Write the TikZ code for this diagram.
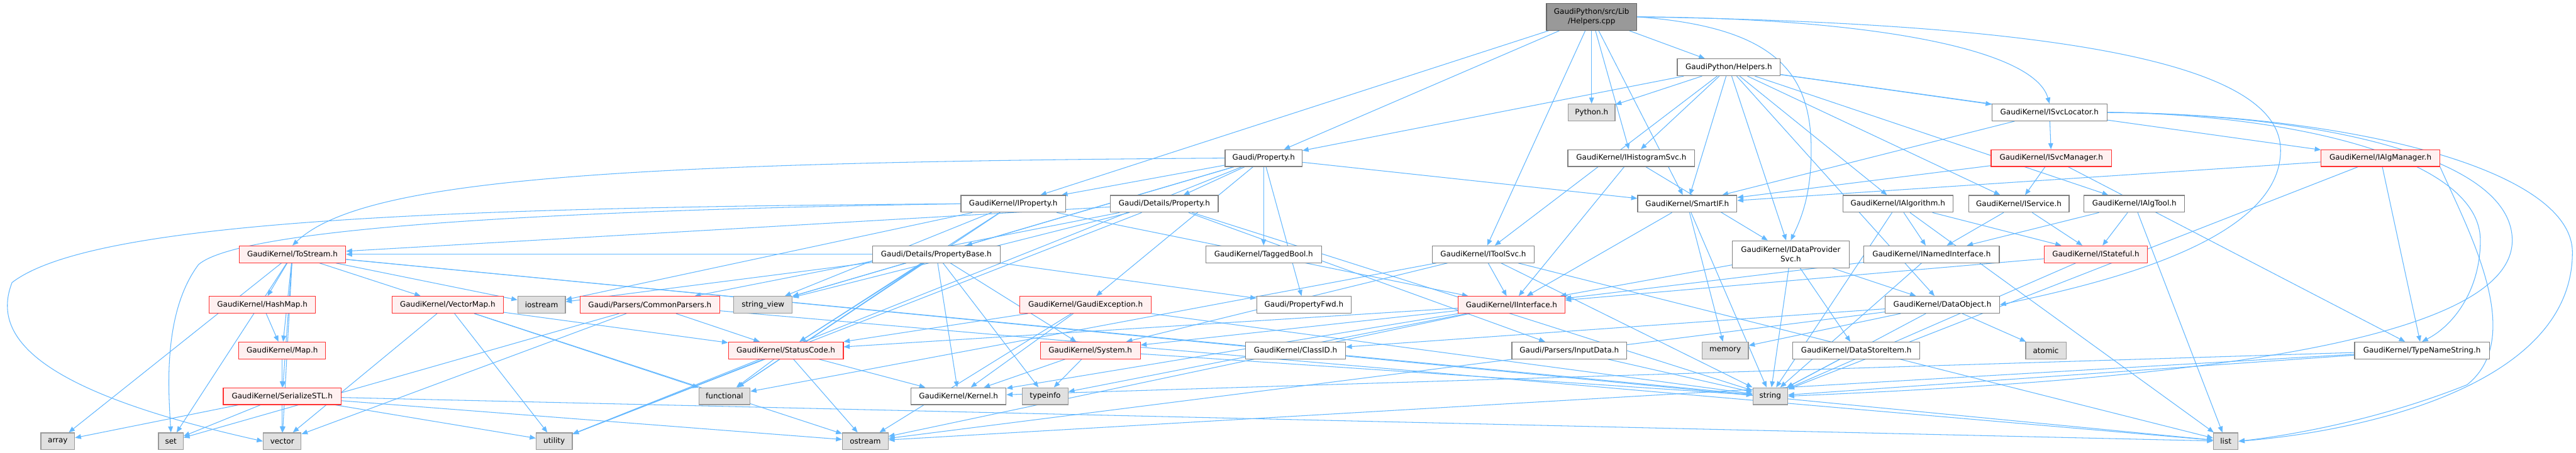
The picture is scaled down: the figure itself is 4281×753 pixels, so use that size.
\documentclass[tikz,border=0pt]{standalone}
\usepackage{fontspec}
\setmainfont{DejaVu Sans}
\usetikzlibrary{arrows.meta,backgrounds}
\definecolor{edgec}{HTML}{63B8FF}
\definecolor{nbord}{HTML}{808080}
\definecolor{rbord}{HTML}{FF3030}
\definecolor{rfill}{HTML}{FFF0F0}
\definecolor{gbord}{HTML}{999999}
\definecolor{gfill}{HTML}{E0E0E0}
\definecolor{rootfill}{HTML}{999999}
\tikzset{
 base/.style={rectangle, draw, line width=1.3pt, minimum height=28pt, inner sep=0pt, font=\fontsize{12.5}{15.5}\selectfont},
 nw/.style={base, draw=nbord, fill=white},
 nr/.style={base, draw=rbord, fill=rfill},
 ng/.style={base, draw=gbord, fill=gfill},
 nroot/.style={base, draw=nbord!80!black, fill=rootfill, align=center, minimum height=45pt},
 edge/.style={draw=edgec, line width=1.1pt, -{Triangle[length=10pt,width=8pt]}},
}
\begin{document}
\begin{tikzpicture}[x=1pt,y=-1pt]
\useasboundingbox (0,0) rectangle (4281,753);
% row 0
\node[nroot, minimum width=150pt] (root) at (2645,28) {GaudiPython/src/Lib\\/Helpers.cpp};
% row 1
\node[nw, minimum width=171pt] (GPH) at (2873,112) {GaudiPython/Helpers.h};
% row 2
\node[ng, minimum width=78pt] (Python) at (2645,187) {Python.h};
\node[nw, minimum width=191pt] (ISvcLoc) at (3406,187) {GaudiKernel/ISvcLocator.h};
% row 3
\node[nw, minimum width=128pt] (GProp) at (2100,263) {Gaudi/Property.h};
\node[nw, minimum width=211pt] (IHist) at (2711,263) {GaudiKernel/IHistogramSvc.h};
\node[nr, minimum width=200pt] (ISvcMgr) at (3409,263) {GaudiKernel/ISvcManager.h};
\node[nr, minimum width=197pt] (IAlgMgr) at (3956,263) {GaudiKernel/IAlgManager.h};
% row 4
\node[nw, minimum width=174pt] (IProp) at (1684,339) {GaudiKernel/IProperty.h};
\node[nw, minimum width=179pt] (DProp) at (1935,339) {Gaudi/Details/Property.h};
\node[nw, minimum width=165pt] (Smart) at (2804,339) {GaudiKernel/SmartIF.h};
\node[nw, minimum width=183pt] (IAlgo) at (3154,339) {GaudiKernel/IAlgorithm.h};
\node[nw, minimum width=167pt] (ISvc) at (3355,339) {GaudiKernel/IService.h};
\node[nw, minimum width=167pt] (IAlgTool) at (3547,339) {GaudiKernel/IAlgTool.h};
% row 5
\node[nr, minimum width=177pt] (ToStream) at (486,423) {GaudiKernel/ToStream.h};
\node[nw, minimum width=212pt] (PBase) at (1556,423) {Gaudi/Details/PropertyBase.h};
\node[nw, minimum width=192pt] (Tagged) at (2100,423) {GaudiKernel/TaggedBool.h};
\node[nw, minimum width=169pt] (IToolSvc) at (2465,423) {GaudiKernel/IToolSvc.h};
\node[nw, minimum width=194pt, minimum height=45pt, align=center] (IDP) at (2976,423) {GaudiKernel/IDataProvider\\Svc.h};
\node[nw, minimum width=225pt] (INamed) at (3210,423) {GaudiKernel/INamedInterface.h};
\node[nr, minimum width=171pt] (IStateful) at (3483,423) {GaudiKernel/IStateful.h};
% row 6
\node[nr, minimum width=177pt] (HashMap) at (436,507) {GaudiKernel/HashMap.h};
\node[nr, minimum width=185pt] (VectorMap) at (744,507) {GaudiKernel/VectorMap.h};
\node[ng, minimum width=79pt] (iostream) at (900,507) {iostream};
\node[nr, minimum width=232pt] (CommonParsers) at (1080,507) {Gaudi/Parsers/CommonParsers.h};
\node[ng, minimum width=97pt] (sview) at (1268,507) {string\_view};
\node[nr, minimum width=219pt] (GExc) at (1804,507) {GaudiKernel/GaudiException.h};
\node[nw, minimum width=157pt] (PFwd) at (2167,507) {Gaudi/PropertyFwd.h};
\node[nr, minimum width=177pt] (IInterface) at (2512,507) {GaudiKernel/IInterface.h};
\node[nw, minimum width=190pt] (DataObject) at (3228,507) {GaudiKernel/DataObject.h};
% row 7
\node[nr, minimum width=144pt] (Map) at (469,583) {GaudiKernel/Map.h};
\node[nr, minimum width=191pt] (StatusCode) at (1306,583) {GaudiKernel/StatusCode.h};
\node[nr, minimum width=166pt] (System) at (1812,583) {GaudiKernel/System.h};
\node[nw, minimum width=166pt] (ClassID) at (2153,583) {GaudiKernel/ClassID.h};
\node[nw, minimum width=191pt] (InputData) at (2608,583) {Gaudi/Parsers/InputData.h};
\node[ng, minimum width=77pt] (memory) at (2867,583) {memory};
\node[nw, minimum width=211pt] (DataStoreItem) at (3085,583) {GaudiKernel/DataStoreItem.h};
\node[ng, minimum width=67pt] (atomic) at (3400,583) {atomic};
\node[nw, minimum width=224pt] (TNS) at (4025,583) {GaudiKernel/TypeNameString.h};
% row 8
\node[nr, minimum width=196pt] (SerializeSTL) at (469,659) {GaudiKernel/SerializeSTL.h};
\node[ng, minimum width=85pt] (functional) at (1204,659) {functional};
\node[nw, minimum width=158pt] (Kernel) at (1593,659) {GaudiKernel/Kernel.h};
\node[ng, minimum width=76pt] (typeinfo) at (1737,659) {typeinfo};
\node[ng, minimum width=58pt] (string) at (2942,659) {string};
% row 9
\node[ng, minimum width=56pt] (array) at (96,734) {array};
\node[ng, minimum width=41pt] (set) at (284,734) {set};
\node[ng, minimum width=63pt] (vector) at (469,734) {vector};
\node[ng, minimum width=60pt] (utility) at (921,734) {utility};
\node[ng, minimum width=76pt] (ostream) at (1438,734) {ostream};
\node[ng, minimum width=41pt] (list) at (3699,734) {list};

\begin{scope}[on background layer]
\fill[white] (0,0) rectangle (4281,753);
\foreach \s/\t in {
 root/Python, root/GPH, root/GProp, root/IProp, root/IHist, root/Smart, root/IToolSvc,
 GPH/Python, GPH/GProp, GPH/IHist, GPH/ISvcLoc, GPH/IAlgMgr, GPH/IAlgo, GPH/ISvc, GPH/IAlgTool, GPH/IToolSvc, GPH/IDP, GPH/DataObject, GPH/Smart,
 ISvcLoc/ISvcMgr, ISvcLoc/Smart,
 ISvcMgr/ISvc, ISvcMgr/Smart, ISvcMgr/TNS,
 IAlgMgr/Smart, IAlgMgr/TNS, IAlgMgr/string,
 IHist/IDP, IHist/IInterface,
 GProp/DProp, GProp/PBase, GProp/PFwd, GProp/IProp, GProp/Smart, GProp/Tagged, GProp/GExc, GProp/sview, GProp/utility,
 DProp/ToStream, DProp/CommonParsers, DProp/InputData, DProp/string, DProp/sview, DProp/utility,
 PBase/ToStream, PBase/PFwd, PBase/Kernel, PBase/StatusCode, PBase/System, PBase/sview, PBase/typeinfo, PBase/functional, PBase/iostream,
 IProp/IInterface, IProp/iostream, IProp/sview, IProp/functional, IProp/StatusCode,
 IAlgo/INamed, IAlgo/IStateful, IAlgo/string, IAlgo/list,
 ISvc/INamed, ISvc/IStateful,
 IAlgTool/INamed, IAlgTool/IStateful, IAlgTool/list,
 IToolSvc/IInterface, IToolSvc/System, IToolSvc/functional, IToolSvc/list, IToolSvc/string,
 IDP/DataObject, IDP/DataStoreItem, IDP/IInterface, IDP/string,
 INamed/IInterface, INamed/string,
 IStateful/IInterface, IStateful/string,
 Smart/IInterface, Smart/memory, Smart/string,
 ToStream/HashMap, ToStream/Map, ToStream/SerializeSTL, ToStream/VectorMap, ToStream/array, ToStream/set, ToStream/vector, ToStream/iostream, ToStream/list, ToStream/string,
 HashMap/Map, Map/SerializeSTL,
 VectorMap/utility, VectorMap/functional, VectorMap/vector, VectorMap/ostream, VectorMap/StatusCode,
 CommonParsers/StatusCode, CommonParsers/vector, CommonParsers/set, CommonParsers/list,
 IInterface/Kernel, IInterface/StatusCode, IInterface/System, IInterface/ostream, IInterface/typeinfo,
 GExc/Kernel, GExc/StatusCode, GExc/ostream, GExc/string,
 DataObject/ClassID, DataObject/memory, DataObject/atomic, DataObject/string, DataObject/ostream,
 DataStoreItem/string, InputData/string,
 System/Kernel, System/typeinfo, System/string,
 StatusCode/Kernel, StatusCode/functional, StatusCode/ostream, StatusCode/utility,
 SerializeSTL/array, SerializeSTL/set, SerializeSTL/vector, SerializeSTL/list, SerializeSTL/ostream, SerializeSTL/utility,
 TNS/Kernel, TNS/string, TNS/ostream}
 { \draw[edge] (\s) -- (\t); }
% curved long connectors
\draw[edge] (root.east) .. controls (3100,30) and (3380,80) .. (ISvcLoc.north);
\draw[edge] (root.east) .. controls (3500,40) and (3790,120) .. (3790,250) .. controls (3790,400) and (3500,470) .. (DataObject.east);
\draw[edge] (root.east) .. controls (2950,45) and (3010,120) .. (3010,250) .. controls (3010,330) and (2990,370) .. (IDP.north);
\draw[edge] (GProp.west) .. controls (1000,270) and (600,300) .. (ToStream.north);
\draw[edge] (IProp.west) .. controls (700,345) and (150,370) .. (20,470) .. controls (-15,560) and (60,650) .. (vector.west);
\draw[edge] (IProp.west) .. controls (900,350) and (400,380) .. (330,440) .. controls (270,520) and (280,650) .. (set.north);
\draw[edge] (ISvcLoc.east) .. controls (3800,190) and (4122,260) .. (4122,400) .. controls (4122,480) and (4080,540) .. (TNS.north);
\draw[edge] (ISvcLoc.east) .. controls (3850,190) and (4175,260) .. (4175,400) .. controls (4175,600) and (3400,640) .. (string.east);
\draw[edge] (ISvcLoc.east) .. controls (3900,190) and (4275,280) .. (4275,420) .. controls (4275,650) and (3900,720) .. (list.east);
\draw[edge] (IAlgMgr.south east) .. controls (4100,380) and (4200,560) .. (4100,640) .. controls (3950,700) and (3800,725) .. (list.east);
\end{scope}
\end{tikzpicture}
\end{document}
